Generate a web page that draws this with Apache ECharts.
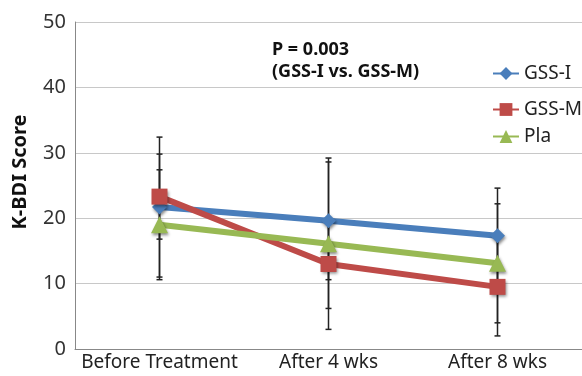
<!DOCTYPE html>
<html><head><meta charset="utf-8">
<script src="https://cdn.jsdelivr.net/npm/echarts@6/dist/echarts.min.js"></script>
<style>html,body{margin:0;padding:0;background:#fff}#c{width:582px;height:376px}</style>
</head><body><div id="c"></div>
<script>
const categories = ['Before Treatment', 'After 4 wks', 'After 8 wks'];
const gssI = [21.7, 19.6, 17.3];
const gssM = [23.3, 13.0, 9.5];
const pla = [19.0, 16.1, 13.1];
const gssIErr = [10.7, 9.0, 7.3];
const gssMErr = [6.5, 6.8, 7.5];
const plaErr = [8.4, 13.1, 9.1];
const yTicks = [0, 10, 20, 30, 40, 50];

const FONT = 'Noto Sans';
const colors = {I: '#4a7ebb', M: '#be4b48', P: '#98b954'};

function errData(vals, errs) {
  return vals.map((v, i) => [i, v - errs[i], v + errs[i]]);
}
function errSeries(vals, errs) {
  return {
    type: 'custom', z: 1, silent: true,
    data: errData(vals, errs),
    renderItem: function (params, api) {
      const lo = api.coord([api.value(0), api.value(1)]);
      const hi = api.coord([api.value(0), api.value(2)]);
      const w = 3;
      const st = {stroke: '#222', lineWidth: 1.5};
      return {type: 'group', children: [
        {type: 'line', shape: {x1: lo[0], y1: lo[1], x2: hi[0], y2: hi[1]}, style: st},
        {type: 'line', shape: {x1: lo[0] - w, y1: lo[1], x2: lo[0] + w, y2: lo[1]}, style: st},
        {type: 'line', shape: {x1: hi[0] - w, y1: hi[1], x2: hi[0] + w, y2: hi[1]}, style: st}
      ]};
    }
  };
}
const shadow = {shadowBlur: 3, shadowColor: 'rgba(0,0,0,0.45)', shadowOffsetX: 1, shadowOffsetY: 2};
function lineSeries(name, vals, color, symbol, size) {
  return {
    name: name, type: 'line', data: vals, z: 3,
    symbol: symbol, symbolSize: size,
    lineStyle: {color: color, width: 6},
    itemStyle: Object.assign({color: color}, shadow),
    emphasis: {disabled: true}
  };
}
const legendText = {fontFamily: FONT, fontSize: 19, color: '#222'};
function legend(name, top) {
  return {data: [name], left: 492, top: top, padding: 0, itemWidth: 26, itemHeight: 16,
    itemGap: 0, textStyle: legendText};
}
const chart = echarts.init(document.getElementById('c'));
chart.setOption({
  animation: false,
  grid: {left: 75, right: 0, top: 22, bottom: 27},
  xAxis: {
    type: 'category', data: categories, boundaryGap: true,
    axisLine: {lineStyle: {color: '#888'}}, axisTick: {show: false},
    axisLabel: {fontFamily: FONT, fontSize: 19, color: '#222', margin: 4, interval: 0}
  },
  yAxis: {
    type: 'value', min: yTicks[0], max: yTicks[yTicks.length - 1], interval: 10,
    axisLine: {show: true, lineStyle: {color: '#888'}}, axisTick: {show: false},
    axisLabel: {fontFamily: FONT, fontSize: 20, color: '#333', margin: 9},
    splitLine: {lineStyle: {color: '#c8c8c8'}}
  },
  legend: [legend('GSS-I', 64), legend('GSS-M', 100), legend('Pla', 127)],
  graphic: [
    {type: 'text', left: 272, top: 41, style: {text: 'P = 0.003', font: 'bold 18px "Noto Sans"', fill: '#111'}},
    {type: 'text', left: 272, top: 63, style: {text: '(GSS-I vs. GSS-M)', font: 'bold 18px "Noto Sans"', fill: '#111'}},
    {type: 'text', x: 20, y: 172, rotation: Math.PI / 2,
      style: {text: 'K-BDI Score', font: 'bold 20px "Noto Sans"', fill: '#111', align: 'center', verticalAlign: 'middle'}}
  ],
  series: [
    errSeries(gssI, gssIErr),
    errSeries(gssM, gssMErr),
    errSeries(pla, plaErr),
    lineSeries('GSS-I', gssI, colors.I, 'diamond', 15),
    lineSeries('GSS-M', gssM, colors.M, 'rect', 16),
    lineSeries('Pla', pla, colors.P, 'triangle', 17)
  ]
});
</script></body></html>
